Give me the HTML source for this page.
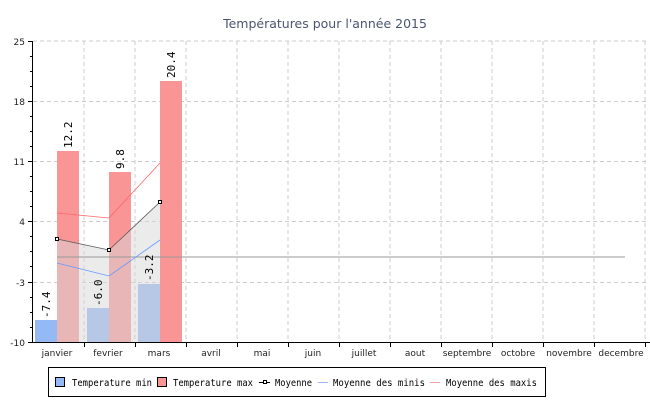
<!DOCTYPE html>
<html><head><meta charset="utf-8"><style>
body{margin:0;background:#fff;}
svg{display:block;font-family:"DejaVu Sans Mono","Liberation Mono",monospace;}
</style></head><body>
<svg width="650" height="400" viewBox="0 0 650 400">
<text x="325" y="28" text-anchor="middle" font-family="DejaVu Sans, sans-serif" font-size="12.5" fill="#4a5570">Températures pour l'année 2015</text>
<g stroke="#ccc" stroke-dasharray="4,3" stroke-width="1">
<line x1="33" y1="41" x2="646" y2="41"/><line x1="33" y1="101.5" x2="646" y2="101.5"/><line x1="33" y1="161.5" x2="646" y2="161.5"/><line x1="33" y1="221.5" x2="646" y2="221.5"/><line x1="33" y1="282.5" x2="646" y2="282.5"/>
<line x1="84" y1="41" x2="84" y2="342"/><line x1="135" y1="41" x2="135" y2="342"/><line x1="186" y1="41" x2="186" y2="342"/><line x1="237" y1="41" x2="237" y2="342"/><line x1="288" y1="41" x2="288" y2="342"/><line x1="339" y1="41" x2="339" y2="342"/><line x1="390" y1="41" x2="390" y2="342"/><line x1="441" y1="41" x2="441" y2="342"/><line x1="492" y1="41" x2="492" y2="342"/><line x1="543" y1="41" x2="543" y2="342"/><line x1="594" y1="41" x2="594" y2="342"/><line x1="645" y1="41" x2="645" y2="342"/>
</g>
<rect x="35" y="320" width="22" height="22" fill="#94b9f5"/>
<rect x="57" y="151" width="22" height="191" fill="#f99595"/>
<rect x="87" y="308" width="22" height="34" fill="#94b9f5"/>
<rect x="109" y="172" width="22" height="170" fill="#f99595"/>
<rect x="138" y="284" width="22" height="58" fill="#94b9f5"/>
<rect x="160" y="81" width="22" height="261" fill="#f99595"/>
<polygon points="57,239 109,250 160,202 160,342 57,342" fill="#d8d8d8" fill-opacity="0.5"/>
<line x1="57" y1="257" x2="625" y2="257" stroke="#999" stroke-width="1"/>
<polyline points="57,213 109,218 160,163" fill="none" stroke="#f66" stroke-width="0.8"/>
<polyline points="57,263 109,276 160,240" fill="none" stroke="#69f" stroke-width="0.8"/>
<polyline points="57,239 109,250 160,202" fill="none" stroke="#555" stroke-width="0.8"/>
<g fill="#fff" stroke="#000" stroke-width="1"><rect x="55.5" y="237.5" width="3" height="3"/><rect x="107.5" y="248.5" width="3" height="3"/><rect x="158.5" y="200.5" width="3" height="3"/></g>
<g font-size="11" fill="#000">
<text transform="translate(50,318) rotate(-90)">-7.4</text>
<text transform="translate(72,148) rotate(-90)">12.2</text>
<text transform="translate(102,306) rotate(-90)">-6.0</text>
<text transform="translate(124,169) rotate(-90)">9.8</text>
<text transform="translate(153,281) rotate(-90)">-3.2</text>
<text transform="translate(175,78) rotate(-90)">20.4</text>
</g>
<g stroke="#000" stroke-width="1">
<line x1="32.5" y1="41" x2="32.5" y2="342"/><line x1="32" y1="342.5" x2="650" y2="342.5"/>
<line x1="28" y1="41.5" x2="33" y2="41.5"/><line x1="28" y1="101.5" x2="33" y2="101.5"/><line x1="28" y1="161.5" x2="33" y2="161.5"/><line x1="28" y1="221.5" x2="33" y2="221.5"/><line x1="28" y1="282.5" x2="33" y2="282.5"/><line x1="28" y1="342.5" x2="33" y2="342.5"/>
<line x1="30" y1="56.5" x2="33" y2="56.5"/><line x1="30" y1="71.5" x2="33" y2="71.5"/><line x1="30" y1="86.5" x2="33" y2="86.5"/><line x1="30" y1="116.5" x2="33" y2="116.5"/><line x1="30" y1="131.5" x2="33" y2="131.5"/><line x1="30" y1="146.5" x2="33" y2="146.5"/><line x1="30" y1="176.5" x2="33" y2="176.5"/><line x1="30" y1="191.5" x2="33" y2="191.5"/><line x1="30" y1="206.5" x2="33" y2="206.5"/><line x1="30" y1="236.5" x2="33" y2="236.5"/><line x1="30" y1="251.5" x2="33" y2="251.5"/><line x1="30" y1="266.5" x2="33" y2="266.5"/><line x1="30" y1="297.5" x2="33" y2="297.5"/><line x1="30" y1="312.5" x2="33" y2="312.5"/><line x1="30" y1="327.5" x2="33" y2="327.5"/>
<line x1="84.5" y1="342" x2="84.5" y2="347"/><line x1="135.5" y1="342" x2="135.5" y2="347"/><line x1="186.5" y1="342" x2="186.5" y2="347"/><line x1="237.5" y1="342" x2="237.5" y2="347"/><line x1="288.5" y1="342" x2="288.5" y2="347"/><line x1="339.5" y1="342" x2="339.5" y2="347"/><line x1="390.5" y1="342" x2="390.5" y2="347"/><line x1="441.5" y1="342" x2="441.5" y2="347"/><line x1="492.5" y1="342" x2="492.5" y2="347"/><line x1="543.5" y1="342" x2="543.5" y2="347"/><line x1="594.5" y1="342" x2="594.5" y2="347"/><line x1="645.5" y1="342" x2="645.5" y2="347"/>
</g>
<g font-family="DejaVu Sans, sans-serif" font-size="9" fill="#222" text-anchor="end">
<text x="25" y="45">25</text><text x="25" y="105">18</text><text x="25" y="165">11</text><text x="25" y="225">4</text><text x="25" y="286">-3</text><text x="25" y="346">-10</text>
</g>
<g font-family="DejaVu Sans, sans-serif" font-size="9" fill="#222" text-anchor="middle">
<text x="57" y="356">janvier</text><text x="108" y="356">fevrier</text><text x="159" y="356">mars</text><text x="211" y="356">avril</text><text x="262" y="356">mai</text><text x="313" y="356">juin</text><text x="364" y="356">juillet</text><text x="415" y="356">aout</text><text x="467" y="356">septembre</text><text x="518" y="356">octobre</text><text x="569" y="356">novembre</text><text x="621" y="356">decembre</text>
</g>
<rect x="48.5" y="367.5" width="497" height="29" fill="#fff" stroke="#000"/>
<rect x="55.5" y="377.5" width="9" height="9" fill="#94b9f5" stroke="#000"/>
<rect x="157.5" y="377.5" width="9" height="9" fill="#f99595" stroke="#000"/>
<line x1="259" y1="382.5" x2="270" y2="382.5" stroke="#000"/><rect x="263.5" y="380.5" width="3" height="3" fill="#fff" stroke="#000"/>
<line x1="318" y1="382.5" x2="328" y2="382.5" stroke="#9bb8ee"/>
<line x1="430" y1="382.5" x2="440" y2="382.5" stroke="#f2a0a0"/>
<g font-size="10" fill="#000">
<text x="72" y="386" textLength="80" lengthAdjust="spacingAndGlyphs">Temperature min</text>
<text x="173" y="386" textLength="80" lengthAdjust="spacingAndGlyphs">Temperature max</text>
<text x="275" y="386" textLength="37" lengthAdjust="spacingAndGlyphs">Moyenne</text>
<text x="333" y="386" textLength="92" lengthAdjust="spacingAndGlyphs">Moyenne des minis</text>
<text x="446" y="386" textLength="91" lengthAdjust="spacingAndGlyphs">Moyenne des maxis</text>
</g>
</svg>
</body></html>
